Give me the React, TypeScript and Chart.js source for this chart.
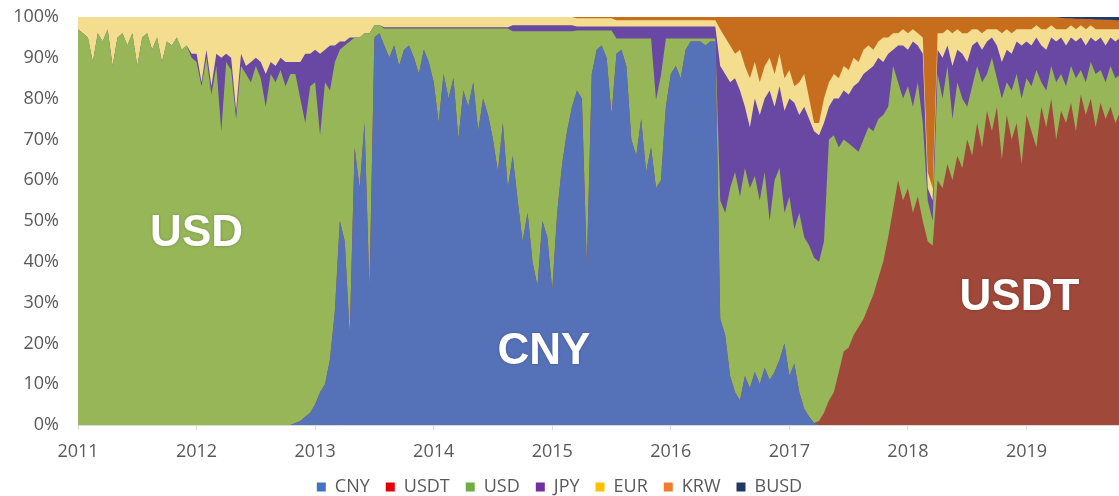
import { useEffect, useRef } from "react";
import { Chart, registerables } from "chart.js";

Chart.register(...registerables);

// ---- axis / categories ----
const FIRST_YEAR = 2011;
const POINTS_PER_YEAR = 24; // semi-monthly observations
const X_MIN = 2011;
const X_MAX = 2019.78;
const yearTicks = [2011, 2012, 2013, 2014, 2015, 2016, 2017, 2018, 2019];
const pctTicks = [0, 10, 20, 30, 40, 50, 60, 70, 80, 90, 100];
const seriesNames = ["CNY", "USDT", "USD", "JPY", "EUR", "KRW", "BUSD"];

// ---- series values (share of volume, %), one row per year, 24 points per year ----
const cny = [
  0,0,0,0,0,0,0,0,0,0,0,0,0,0,0,0,0,0,0,0,0,0,0,0,
  0,0,0,0,0,0,0,0,0,0,0,0,0,0,0,0,0,0,0,0,0.5,1,2,3,
  5,8,10,16,28,50,45,22,68,58,74,33,95,96,93,90,93,88,92,93,90,86,92,89,
  84,74,86,80,85,70,82,78,84,72,80,76,70,62,74,58,66,55,45,52,40,34,50,46,
  33,52,64,72,78,82,80,39,86,92,93,90,76,91,92,88,70,66,75,62,68,58,60,78,
  86,88,85,92,94,94,94,93,94,94,26,22,12,8,6,12,9,13,10,14,11,13,16,20,
  12,15,8,4,2,0.5,0,0,0,0,0,0,0,0,0,0,0,0,0,0,0,0,0,0,
  0,0,0,0,0,0,0,0,0,0,0,0,0,0,0,0,0,0,0,0,0,0,0,0,
  0,0,0,0,0,0,0,0,0,0,0,0,0,0,0,0,0,0,0,0,
];
const usdt = [
  0,0,0,0,0,0,0,0,0,0,0,0,0,0,0,0,0,0,0,0,0,0,0,0,
  0,0,0,0,0,0,0,0,0,0,0,0,0,0,0,0,0,0,0,0,0,0,0,0,
  0,0,0,0,0,0,0,0,0,0,0,0,0,0,0,0,0,0,0,0,0,0,0,0,
  0,0,0,0,0,0,0,0,0,0,0,0,0,0,0,0,0,0,0,0,0,0,0,0,
  0,0,0,0,0,0,0,0,0,0,0,0,0,0,0,0,0,0,0,0,0,0,0,0,
  0,0,0,0,0,0,0,0,0,0,0,0,0,0,0,0,0,0,0,0,0,0,0,0,
  0,0,0,0,0,0,1,3,6,8,13,18,19,22,24,26,29,32,36,40,46,53,60,55,
  58,52,56,50,45,44,60,58,64,60,66,63,70,66,74,68,77,72,78,65,76,70,74,64,
  76,72,68,78,73,80,70,77,74,79,72,81,76,80,73,79,75,78,74,77,
];
const usd = [
  97,96,95,89,96,94,97,88,95,96,93,96,88,95,96,92,95,89,94,93,95,92,93,90,
  89,83,90,81,88,72,89,87,75,88,86,84,88,85,78,86,84,87,83,86,85.5,79,72,80,
  79,63,74,66,61,42,48,72,27,37,22,63,3,2,4.2,7.2,4.2,9.2,5.2,4.2,7.2,11.2,5.2,8.2,
  13.2,23.2,11.2,17.2,12.2,27.2,15.2,19.2,13.2,25.2,17.2,21.2,27.2,35.2,23.2,39.2,30.5,41.5,51.5,44.5,56.5,62.5,46.5,50.5,
  63.5,44.5,32.5,24.5,18.5,14.7,16.7,57.7,10.7,4.7,3.7,6.7,20.7,3.7,2.7,6.7,24.7,28.7,19.7,32.7,26.7,21.7,25.7,16.7,
  8.7,6.7,9.7,2.7,0.7,0.7,0.7,1.7,0.7,0.7,29,30,46,54,50,51,49,48,45,48,39,47,47,32,
  44,33,44,42,42,40.5,39,42,64,63,55,52,50,46,43,44,44,40,39,36,32,35,24,25,
  25,26,28,24,10,6,26,22,24,15,18,17,8,17,14,16,9,18,7,15,8,12,12,16,
  9,11,19,6,9,8,14,9,9,9,13,6,8,9,13,8,9,10,11,9,
];
const jpy = [
  0,0,0,0,0,0,0,0,0,0,0,0,0,0,0,0,0,0,0,0,0,0,0,1,
  2,1,2,2,3,18,2,3,2,3,2,5,2,4,8,3,4,3,6,3,3,9,17,8,
  8,20,8,11,4,2,1,1,0,0,0,0,0,0,0.3,0.3,0.3,0.3,0.3,0.3,0.3,0.3,0.3,0.3,
  0.3,0.3,0.3,0.3,0.3,0.3,0.3,0.3,0.3,0.3,0.3,0.3,0.3,0.3,0.3,0.3,1.5,1.5,1.5,1.5,1.5,1.5,1.5,1.5,
  1.5,1.5,1.5,1.5,1.5,1,1,1,1,1,1,1,1,3,3,3,3,3,3,3,3,18,12,3,
  3,3,3,3,3,3,3,3,3,3,33,34,26,23,26,15,15,19,21,18,32,18,20,25,
  24,31,24,32,31,31,31,29,8,9,12,12,12,15,17,16,14,16,15,13,13,4,9,13,
  9,16,9,17,3,5,6,10,5,13,8,11,11,10,6,8,8,5,8,9,8,9,8,13,
  9,10,8,9,10,7,10,9,10,7,9,8,9,6,8,8,9,7,9,9,
];
const eur = [
  3,4,5,11,4,6,3,12,5,4,7,4,12,5,4,8,5,11,6,7,5,8,7,9,
  9,16,8,17,9,10,9,10,23,9,12,11,10,11,14,11,12,10,11,11,11,11,9,9,
  8,9,8,7,7,6,6,5,5,5,4,4,2,2,2.5,2.5,2.5,2.5,2.5,2.5,2.5,2.5,2.5,2.5,
  2.5,2.5,2.5,2.5,2.5,2.5,2.5,2.5,2.5,2.5,2.5,2.5,2.5,2.5,2.5,2.5,2,2,2,2,2,2,2,2,
  2,2,2,2,2,2,2,2,2,2,2,2,2,1.5,1.5,1.5,1.5,1.5,1.5,1.5,1.5,1.5,1.5,1.5,
  1.5,1.5,1.5,1.5,1.5,1.5,1.5,1.5,1.5,1.5,9,9,9,6,10,10,12,9,8,8,8,8,8,8,
  7,4,8,8,5,2,3,6,6,6,5,6,6,7,5,6,6,4,4,6,4,4,3,4,
  4,3,3,4,4,3,4,6,4,8,5,5,7,4,3,4,3,2,4,7,5,5,3,4,
  3,4,3,4,5,3,3,2,4,3,3,3,4,3,3,2,4,2,3,2,
];
const krw = [
  0,0,0,0,0,0,0,0,0,0,0,0,0,0,0,0,0,0,0,0,0,0,0,0,
  0,0,0,0,0,0,0,0,0,0,0,0,0,0,0,0,0,0,0,0,0,0,0,0,
  0,0,0,0,0,0,0,0,0,0,0,0,0,0,0,0,0,0,0,0,0,0,0,0,
  0,0,0,0,0,0,0,0,0,0,0,0,0,0,0,0,0,0,0,0,0,0,0,0,
  0,0,0,0,0,0.3,0.3,0.3,0.3,0.3,0.3,0.3,0.3,0.8,0.8,0.8,0.8,0.8,0.8,0.8,0.8,0.8,0.8,0.8,
  0.8,0.8,0.8,0.8,0.8,0.8,0.8,0.8,0.8,0.8,3,5,7,9,8,12,15,11,16,12,10,14,9,15,
  13,17,16,14,20,26,26,20,16,14,15,12,13,10,11,8,7,8,6,5,5,4,4,3,
  4,3,4,5,38,42,4,4,3,4,3,4,4,3,3,4,3,3,3,4,3,4,3,3,
  3,3,2,3,3,2,3,2.8,2.7,1.7,2.6,1.6,2.5,1.5,2.4,2.4,2.3,2.3,2.2,2.2,
];
const busd = [
  0,0,0,0,0,0,0,0,0,0,0,0,0,0,0,0,0,0,0,0,0,0,0,0,
  0,0,0,0,0,0,0,0,0,0,0,0,0,0,0,0,0,0,0,0,0,0,0,0,
  0,0,0,0,0,0,0,0,0,0,0,0,0,0,0,0,0,0,0,0,0,0,0,0,
  0,0,0,0,0,0,0,0,0,0,0,0,0,0,0,0,0,0,0,0,0,0,0,0,
  0,0,0,0,0,0,0,0,0,0,0,0,0,0,0,0,0,0,0,0,0,0,0,0,
  0,0,0,0,0,0,0,0,0,0,0,0,0,0,0,0,0,0,0,0,0,0,0,0,
  0,0,0,0,0,0,0,0,0,0,0,0,0,0,0,0,0,0,0,0,0,0,0,0,
  0,0,0,0,0,0,0,0,0,0,0,0,0,0,0,0,0,0,0,0,0,0,0,0,
  0,0,0,0,0,0,0,0.2,0.3,0.3,0.4,0.4,0.5,0.5,0.6,0.6,0.7,0.7,0.8,0.8,
];

const seriesValues = [cny, usdt, usd, jpy, eur, krw, busd];

// ---- styling ----
const areaColors = ["#5571B8", "#A0483A", "#96B658", "#6848A3", "#F4DD8E", "#C66E1E", "#1F3A6E"];
const legendColors = ["#4472C4", "#E00000", "#70AD47", "#7030A0", "#FFC000", "#ED7D31", "#1F3864"];
const areaLabels = [
  { text: "USD", year: 2012.0, pct: 46.8 },
  { text: "CNY", year: 2014.93, pct: 17.9 },
  { text: "USDT", year: 2018.94, pct: 31.1 },
];
const TEXT_GREY = "#595959";

// observation dates (decimal years)
const periods = cny.map((_, k) => FIRST_YEAR + k / POINTS_PER_YEAR);

const areaLabelPlugin = {
  id: "areaLabels",
  afterDatasetsDraw(chart: any) {
    const { ctx, scales } = chart;
    ctx.save();
    ctx.font = 'bold 44px "Liberation Sans", Arial, sans-serif';
    ctx.fillStyle = "#FFFFFF";
    ctx.textAlign = "center";
    ctx.textBaseline = "middle";
    ctx.shadowColor = "rgba(0,0,0,0.25)";
    ctx.shadowBlur = 3;
    for (const l of areaLabels) {
      ctx.fillText(l.text, scales.x.getPixelForValue(l.year), scales.y.getPixelForValue(l.pct));
    }
    ctx.restore();
  },
};

export default function App() {
  const canvasRef = useRef<HTMLCanvasElement | null>(null);

  useEffect(() => {
    document.body.style.margin = "0";
    const canvas = canvasRef.current;
    if (!canvas) return;

    // 100% stacked: normalise each date to its total
    const totals = periods.map((_, i) => seriesValues.reduce((s, arr) => s + arr[i], 0));

    const datasets = seriesNames.map((name, si) => ({
      label: name,
      data: periods.map((x, i) => ({ x, y: (seriesValues[si][i] / totals[i]) * 100 })),
      backgroundColor: areaColors[si],
      borderColor: areaColors[si],
      borderWidth: 0,
      pointRadius: 0,
      pointHoverRadius: 0,
      tension: 0,
      fill: "origin",
    }));

    const chart = new Chart(canvas, {
      type: "line",
      data: { datasets },
      plugins: [areaLabelPlugin],
      options: {
        responsive: false,
        animation: false,
        devicePixelRatio: 1,
        layout: { padding: { top: 17, left: 0, right: 0, bottom: -10 } },
        plugins: {
          tooltip: { enabled: false },
          legend: {
            position: "bottom",
            labels: {
              boxWidth: 9,
              boxHeight: 9,
              padding: 16,
              color: TEXT_GREY,
              font: { family: "'Open Sans', sans-serif", size: 18 },
              generateLabels: (ch: any) =>
                ch.data.datasets.map((ds: any, i: number) => ({
                  text: ds.label,
                  fillStyle: legendColors[i],
                  strokeStyle: legendColors[i],
                  lineWidth: 0,
                  hidden: false,
                  datasetIndex: i,
                  fontColor: TEXT_GREY,
                })),
            },
          },
        },
        scales: {
          x: {
            type: "linear",
            min: X_MIN,
            max: X_MAX,
            afterFit: (s: any) => { s.height = 37; s.paddingLeft = 0; s.paddingRight = 0; },
            afterBuildTicks: (s: any) => { s.ticks = yearTicks.map((v) => ({ value: v })); },
            ticks: {
              autoSkip: false,
              includeBounds: false,
              maxRotation: 0,
              padding: 11,
              color: TEXT_GREY,
              font: { family: "'Open Sans', sans-serif", size: 18 },
              callback: (v: any) => String(v),
            },
            grid: { display: true, drawOnChartArea: false, tickLength: 5, color: "#D9D9D9" },
            border: { display: true, color: "#D9D9D9" },
          },
          y: {
            stacked: true,
            min: 0,
            max: 100,
            afterFit: (s: any) => { s.width = 78; s.paddingTop = 0; s.paddingBottom = 0; },
            afterBuildTicks: (s: any) => { s.ticks = pctTicks.map((v) => ({ value: v })); },
            ticks: {
              padding: 11,
              color: TEXT_GREY,
              font: { family: "'Open Sans', sans-serif", size: 18 },
              callback: (v: any) => v + "%",
            },
            grid: { display: false },
            border: { display: false },
          },
        },
      },
    });

    return () => chart.destroy();
  }, []);

  return (
    <div style={{ width: 1119, height: 496, background: "#fff" }}>
      <canvas ref={canvasRef} width={1119} height={496} />
    </div>
  );
}
